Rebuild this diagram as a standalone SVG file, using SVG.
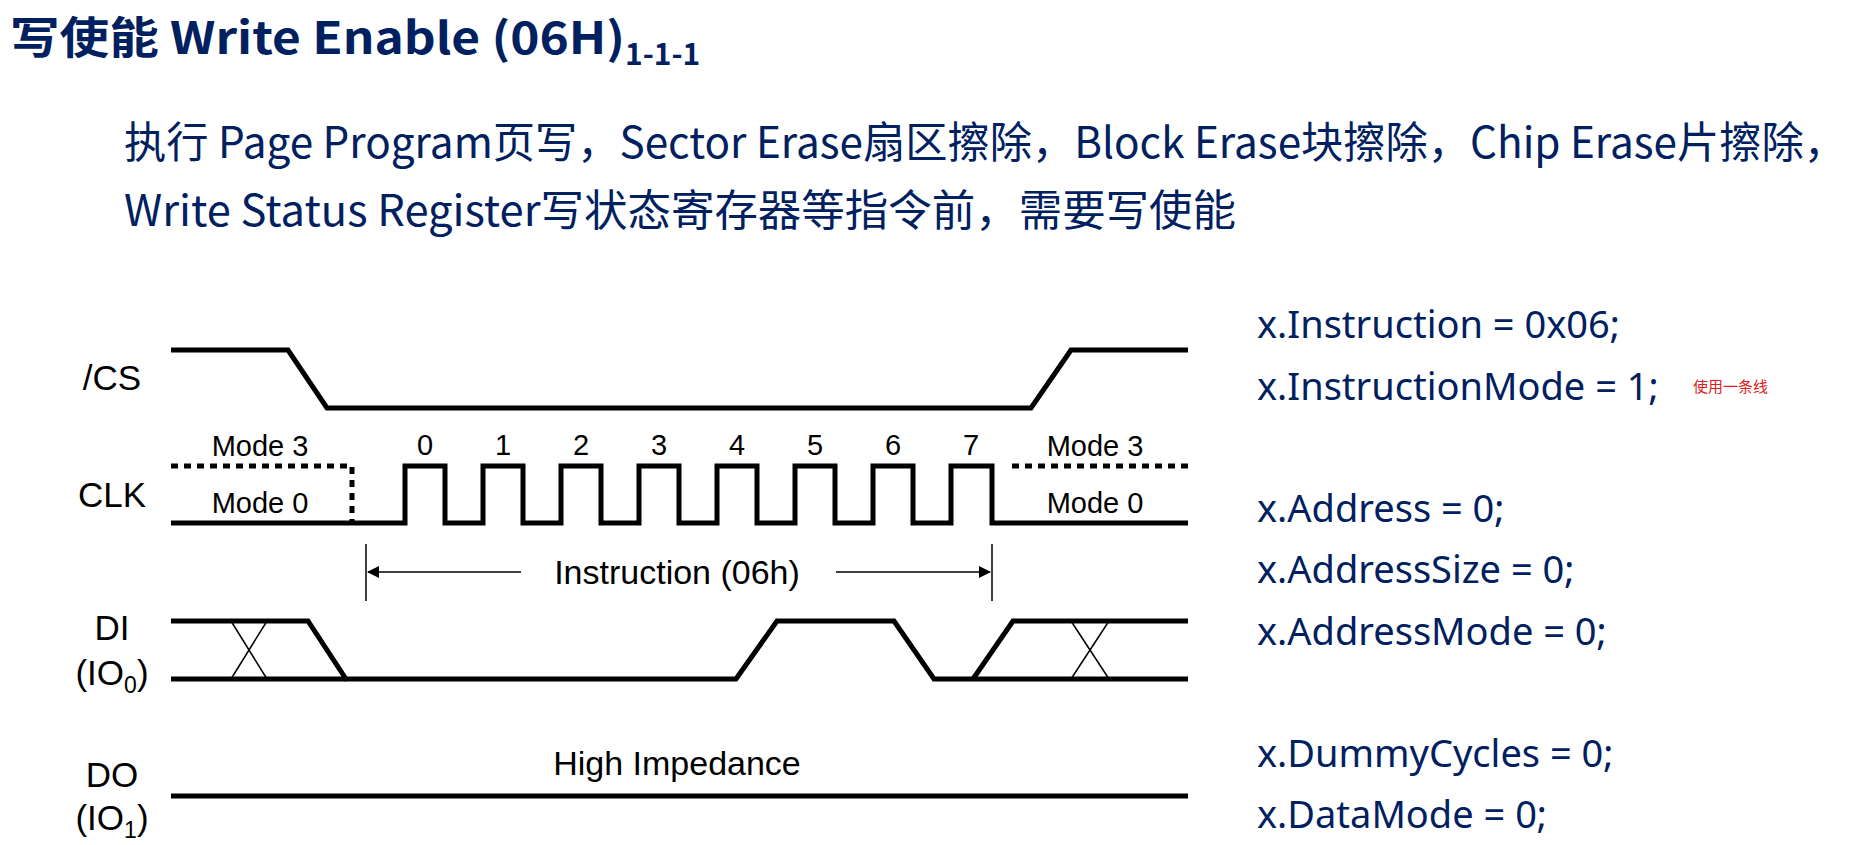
<svg xmlns="http://www.w3.org/2000/svg" width="1864" height="845" viewBox="0 0 1864 845">
<style>
.t{font-family:"Noto Sans CJK SC","Noto Sans",sans-serif;fill:#002060}
.l{font-family:"Liberation Sans",Arial,sans-serif;fill:#000}
.w{fill:none;stroke:#000;stroke-width:5}
.d{fill:none;stroke:#000;stroke-width:5;stroke-dasharray:7,6}
.x{fill:none;stroke:#000;stroke-width:1.5}
.c{font-family:"Noto Sans","Noto Sans CJK SC",sans-serif;fill:#002060;font-size:38px}
</style>
<defs><marker id="ah" markerWidth="12" markerHeight="12" refX="11" refY="6" orient="auto" markerUnits="userSpaceOnUse"><path d="M0,0L12,6L0,12z" fill="#000"/></marker></defs>
<rect width="1864" height="845" fill="#fff"/>
<g id="title"><text class="t" x="10" y="54" font-size="44" font-weight="bold"><tspan textLength="615" lengthAdjust="spacingAndGlyphs">写使能 Write Enable (06H)</tspan><tspan font-size="30" dy="11">1-1-1</tspan></text></g>
<g id="desc">
<text class="t" x="124" y="158" font-size="43" textLength="1722" lengthAdjust="spacingAndGlyphs">执行 Page Program页写，Sector Erase扇区擦除，Block Erase块擦除，Chip Erase片擦除，</text>
<text class="t" x="124" y="226" font-size="43" textLength="1112" lengthAdjust="spacingAndGlyphs">Write Status Register写状态寄存器等指令前，需要写使能</text>
</g>
<g id="labels" class="l" font-size="35" text-anchor="middle">
<text x="112" y="390">/CS</text>
<text x="112" y="507">CLK</text>
<text x="112" y="640">DI</text>
<text x="112" y="685">(IO<tspan font-size="23" dy="8">0</tspan><tspan dy="-8">)</tspan></text>
<text x="112" y="787">DO</text>
<text x="112" y="830">(IO<tspan font-size="23" dy="8">1</tspan><tspan dy="-8">)</tspan></text>
</g>
<g id="cs"><path class="w" d="M171,350H288L327,408H1031L1071,350H1188"/></g>
<g id="clk">
<path class="d" d="M171,466H352V523"/>
<path class="d" d="M1012,466H1188"/>
<path class="w" d="M171,523H405V466H445V523H483V466H523V523H561V466H601V523H639V466H679V523H717V466H757V523H795V466H835V523H873V466H913V523H951V466H992V523H1188"/>
<g class="l" font-size="29" text-anchor="middle">
<text x="425" y="455">0</text><text x="503" y="455">1</text><text x="581" y="455">2</text><text x="659" y="455">3</text><text x="737" y="455">4</text><text x="815" y="455">5</text><text x="893" y="455">6</text><text x="971" y="455">7</text>
<text x="260" y="456">Mode 3</text><text x="260" y="513">Mode 0</text>
<text x="1095" y="456">Mode 3</text><text x="1095" y="513">Mode 0</text>
</g>
</g>
<g id="instr">
<path class="x" d="M366,544V601M992,544V601"/>
<path class="x" d="M521,572H368" marker-end="url(#ah)"/>
<path class="x" d="M836,572H990" marker-end="url(#ah)"/>
<text class="l" x="677" y="584" font-size="34" text-anchor="middle">Instruction (06h)</text>
</g>
<g id="di">
<path class="w" d="M171,621H308L346,679H736L777,621H894L934,679H1188"/>
<path class="w" d="M171,679H346"/>
<path class="w" d="M973,679L1013,621H1188"/>
<path class="x" d="M231,621L267,679M267,621L231,679M1071,621L1109,679M1109,621L1071,679"/>
</g>
<g id="do">
<path class="w" d="M171,796H1188"/>
<text class="l" x="677" y="775" font-size="34" text-anchor="middle">High Impedance</text>
</g>
<g id="code">
<text class="c" x="1257" y="338">x.Instruction = 0x06;</text>
<text class="c" x="1257" y="400">x.InstructionMode = 1;</text>
<text x="1693" y="392" font-size="15" fill="#e02020" font-family="Noto Sans CJK SC,sans-serif">使用一条线</text>
<text class="c" x="1257" y="522">x.Address = 0;</text>
<text class="c" x="1257" y="583">x.AddressSize = 0;</text>
<text class="c" x="1257" y="645">x.AddressMode = 0;</text>
<text class="c" x="1257" y="767">x.DummyCycles = 0;</text>
<text class="c" x="1257" y="828">x.DataMode = 0;</text>
</g>
</svg>
